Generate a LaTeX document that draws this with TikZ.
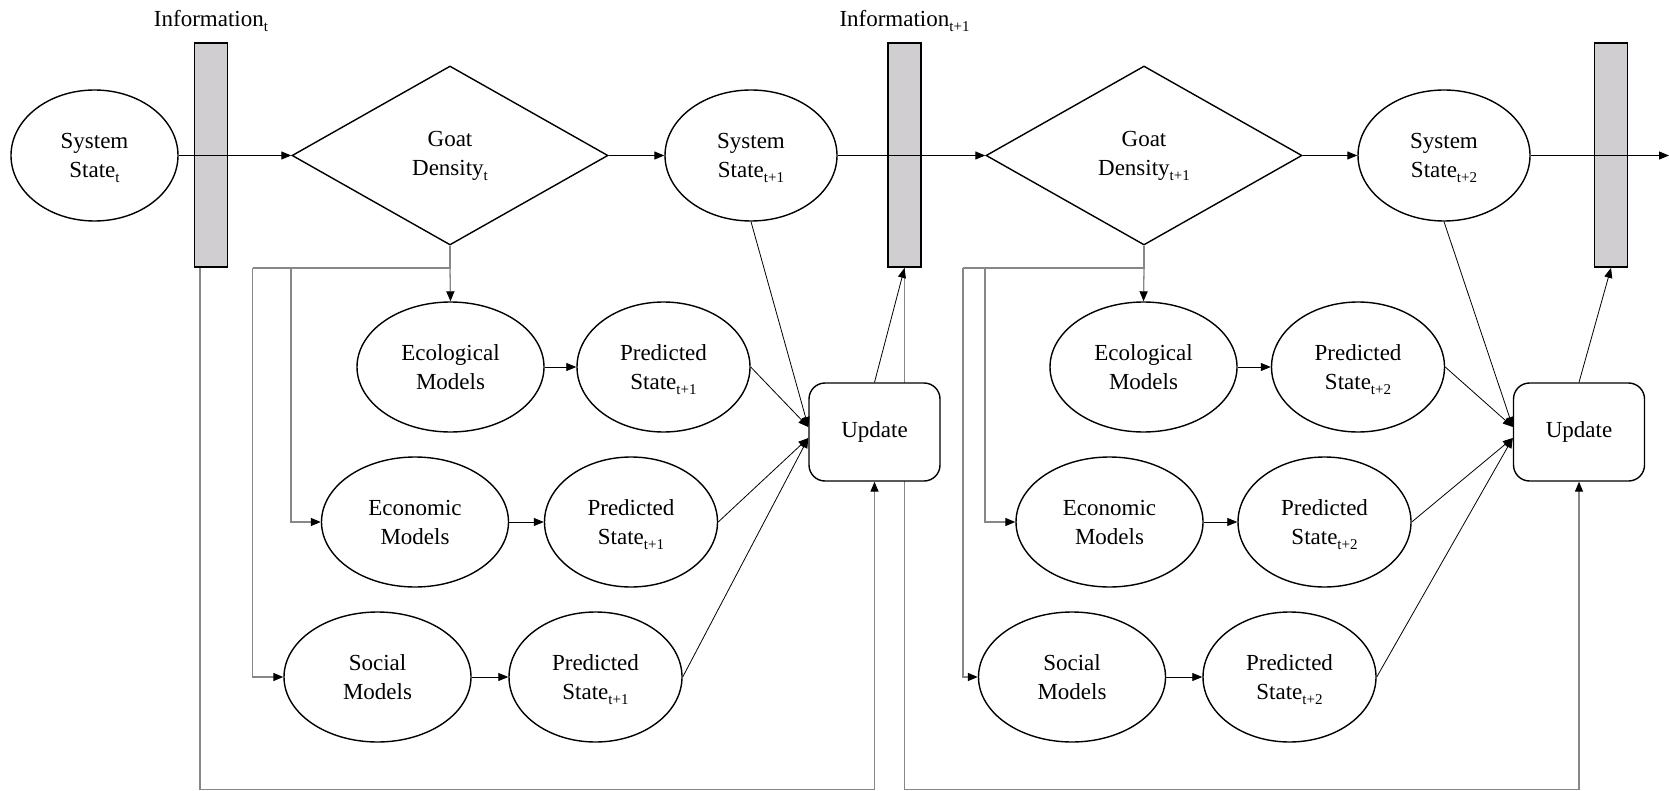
\documentclass[tikz,border=0pt]{standalone}
\usepackage{fontspec}
\setmainfont{Liberation Serif}
\usetikzlibrary{shapes.geometric,arrows.meta,calc,backgrounds}

\definecolor{barfill}{RGB}{208,206,208}
\definecolor{linkgray}{RGB}{135,135,135}
% lowered, smaller index text (t, t+1, t+2); takes no vertical room
\newcommand\subx[1]{\raisebox{-5pt}[0pt][0pt]{\fontsize{15}{15}\selectfont #1}}

\begin{document}
\begin{tikzpicture}[x=1pt,y=-1pt,
  font=\fontsize{23}{29}\selectfont,
  every node/.style={align=center, inner sep=0pt},
  state/.style={ellipse, draw, line width=1.4pt, fill=white},
  sysstate/.style={state, minimum width=172, minimum height=131},
  model/.style={state, minimum width=187, minimum height=130},
  pred/.style={state, minimum width=173, minimum height=130},
  infobar/.style={rectangle, draw, line width=1.8pt, fill=barfill,
                  minimum width=33, minimum height=224},
  decision/.style={diamond, draw, line width=1.4pt, fill=white,
                   minimum width=316, minimum height=179},
  updbox/.style={rectangle, rounded corners=16pt, draw, line width=1.4pt,
                 fill=white, minimum width=131, minimum height=98},
  tip/.style={-{Triangle[length=10pt,width=8pt,color=black]}},
  mainflow/.style={line width=1.1pt, tip},
  flow/.style={line width=0.8pt, tip},
  feed/.style={linkgray, line width=1.3pt},
  feedarrow/.style={feed, tip},
]
\useasboundingbox (0,0) rectangle (1669,791);

% information bars and their labels
\node[infobar] (bar1) at (211,155) {};
\node[infobar] (bar2) at (904.5,155) {};
\node[infobar] (bar3) at (1611,155) {};
\node[anchor=base] (info1) at (211,27) {Information\subx{t}};
\node[anchor=base] (info2) at (904.5,27) {Information\subx{t+1}};

% main row
\node[sysstate, minimum width=167] (ss1) at (94.5,155.5) {System\\State\subx{t}};
\node[decision] (d1) at (450,155.5) {Goat\\Density\subx{t}};
\node[sysstate] (ss2) at (751,155.5) {System\\State\subx{t+1}};
\node[decision] (d2) at (1144,155.5) {Goat\\Density\subx{t+1}};
\node[sysstate] (ss3) at (1444,155.5) {System\\State\subx{t+2}};
\coordinate (exit) at (1669,155.5);

% first step models
\node[model] (eco1)  at (450.5,367) {Ecological\\Models};
\node[pred]  (pe1)   at (663.5,367) {Predicted\\State\subx{t+1}};
\node[model] (econ1) at (415,522)   {Economic\\Models};
\node[pred]  (pn1)   at (631,522)   {Predicted\\State\subx{t+1}};
\node[model] (soc1)  at (377.5,677) {Social\\Models};
\node[pred]  (ps1)   at (595.5,677) {Predicted\\State\subx{t+1}};
\node[updbox] (upd1) at (874.5,432) {Update};

% second step models
\node[model] (eco2)  at (1143.5,367) {Ecological\\Models};
\node[pred]  (pe2)   at (1358,367)   {Predicted\\State\subx{t+2}};
\node[model] (econ2) at (1109.5,522) {Economic\\Models};
\node[pred]  (pn2)   at (1324.5,522) {Predicted\\State\subx{t+2}};
\node[model] (soc2)  at (1072,677)   {Social\\Models};
\node[pred]  (ps2)   at (1289.5,677) {Predicted\\State\subx{t+2}};
\node[updbox] (upd2) at (1579,432)   {Update};

% routing points
\coordinate (econbus1) at (291,268);
\coordinate (socbus1)  at (252.5,268);
\coordinate (econbus2) at (985,268);
\coordinate (socbus2)  at (963,268);
\coordinate (floor)    at (0,789.5);
\coordinate (tap1) at ($(bar1.south)+(-11,0)$);
\coordinate (in1a) at ($(upd1.west)+(0,-5)$);
\coordinate (in1b) at ($(upd1.west)+(0,6)$);
\coordinate (in2a) at ($(upd2.west)+(0,-5)$);
\coordinate (in2b) at ($(upd2.west)+(0,6)$);

% feedback from the information bars to the update boxes
\begin{pgfonlayer}{background}
  \draw[feedarrow] (tap1) -- (tap1 |- floor) -| (upd1.south);
  \draw[feedarrow] (bar2.south) -- (bar2.south |- floor) -| (upd2.south);
\end{pgfonlayer}

% main sequence
\draw[mainflow] (ss1.east) -- (d1.west);
\draw[mainflow] (d1.east) -- (ss2.west);
\draw[mainflow] (ss2.east) -- (d2.west);
\draw[mainflow] (d2.east) -- (ss3.west);
\draw[mainflow] (ss3.east) -- (exit);

% decision fans out to the models
\draw[feed] (d1.south) -- (d1.south |- socbus1) -- (socbus1);
\draw[feedarrow] (d1.south |- socbus1) -- (eco1.north);
\draw[feedarrow] (econbus1) |- (econ1.west);
\draw[feedarrow] (socbus1) |- (soc1.west);
\draw[feed] (d2.south) -- (d2.south |- socbus2) -- (socbus2);
\draw[feedarrow] (d2.south |- socbus2) -- (eco2.north);
\draw[feedarrow] (econbus2) |- (econ2.west);
\draw[feedarrow] (socbus2) |- (soc2.west);

% models to predictions
\draw[flow] (eco1.east) -- (pe1.west);
\draw[flow] (econ1.east) -- (pn1.west);
\draw[flow] (soc1.east) -- (ps1.west);
\draw[flow] (eco2.east) -- (pe2.west);
\draw[flow] (econ2.east) -- (pn2.west);
\draw[flow] (soc2.east) -- (ps2.west);

% predictions and states into the update boxes
\draw[flow] (ss2.south) -- (in1a);
\draw[flow] (pe1.east) -- (in1a);
\draw[flow] (pn1.east) -- (in1b);
\draw[flow] (ps1.east) -- (in1b);
\draw[flow] (ss3.south) -- (in2a);
\draw[flow] (pe2.east) -- (in2a);
\draw[flow] (pn2.east) -- (in2b);
\draw[flow] (ps2.east) -- (in2b);

% updates feed the next information bar
\draw[flow] (upd1.north) -- (bar2.south);
\draw[flow] (upd2.north) -- (bar3.south);
\end{tikzpicture}
\end{document}
